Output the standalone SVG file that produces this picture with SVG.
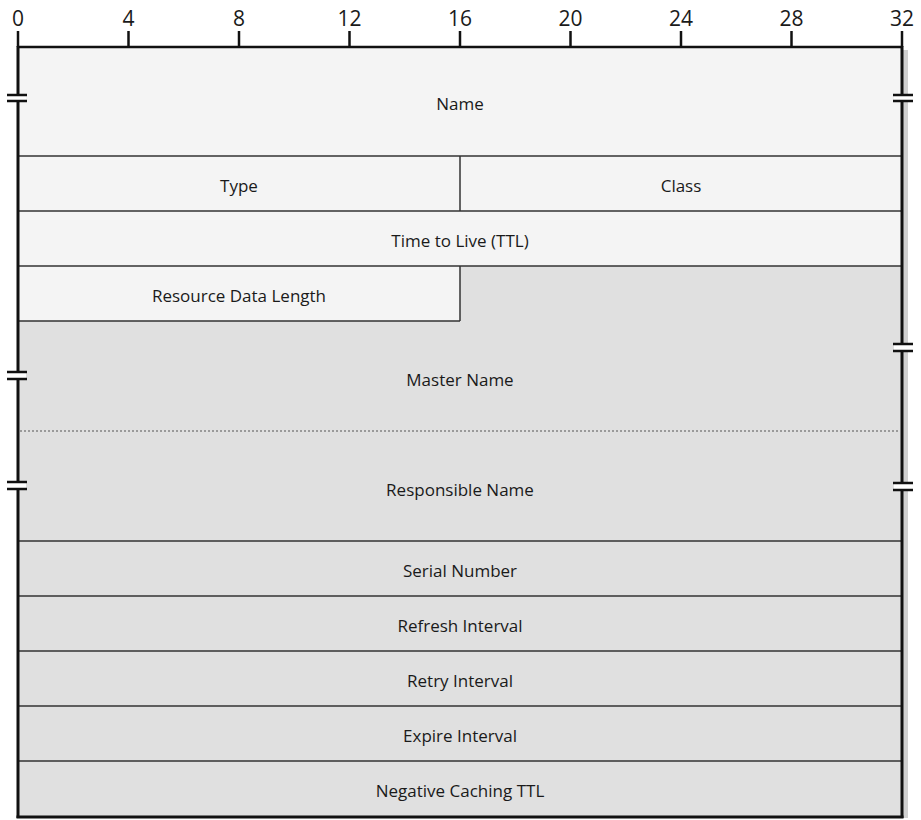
<svg xmlns="http://www.w3.org/2000/svg" width="921" height="820" viewBox="0 0 921 820">
<style>
.t{font-family:"Open Sans","Liberation Sans",sans-serif;font-size:17px;fill:#1a1a1a;text-anchor:middle}
.n{font-family:"Open Sans","Liberation Sans",sans-serif;font-size:21px;fill:#1a1a1a;text-anchor:middle}
.ln{stroke:#333;stroke-width:1.5;fill:none}
.bd{stroke:#111;stroke-width:3;fill:none}
.tk{stroke:#111;stroke-width:2.5}
.br{stroke:#111;stroke-width:2.5}
</style>
<rect width="921" height="820" fill="#fff"/>
<!-- shadow -->
<rect x="903" y="50" width="5" height="768" fill="#d0d0d0"/>
<!-- fills -->
<rect x="18" y="47" width="884" height="219" fill="#f4f4f4"/>
<rect x="18" y="266" width="442" height="55" fill="#f4f4f4"/>
<polygon points="460,266 902,266 902,817 18,817 18,321 460,321" fill="#e0e0e0"/>
<!-- ruler -->
<g id="ruler">
<line x1="18" y1="47" x2="902" y2="47" class="tk"/>
<g class="tk">
<line x1="18" y1="31" x2="18" y2="47"/><line x1="128.5" y1="31" x2="128.5" y2="47"/><line x1="239" y1="31" x2="239" y2="47"/><line x1="349.5" y1="31" x2="349.5" y2="47"/><line x1="460" y1="31" x2="460" y2="47"/><line x1="570.5" y1="31" x2="570.5" y2="47"/><line x1="681" y1="31" x2="681" y2="47"/><line x1="791.5" y1="31" x2="791.5" y2="47"/><line x1="902" y1="31" x2="902" y2="47"/>
</g>
<text class="n" x="18" y="26">0</text><text class="n" x="128.5" y="26">4</text><text class="n" x="239" y="26">8</text><text class="n" x="349.5" y="26">12</text><text class="n" x="460" y="26">16</text><text class="n" x="570.5" y="26">20</text><text class="n" x="681" y="26">24</text><text class="n" x="791.5" y="26">28</text><text class="n" x="902" y="26">32</text>
</g>
<!-- internal lines -->
<g id="connectors">
<line class="ln" x1="18" y1="156" x2="902" y2="156"/>
<line class="ln" x1="460" y1="156" x2="460" y2="211"/>
<line class="ln" x1="18" y1="211" x2="902" y2="211"/>
<line class="ln" x1="18" y1="266" x2="902" y2="266"/>
<line class="ln" x1="18" y1="321" x2="460" y2="321"/>
<line class="ln" x1="460" y1="266" x2="460" y2="321"/>
<line x1="20" y1="431" x2="900" y2="431" stroke="#555" stroke-width="1.2" stroke-dasharray="2,2"/>
<line class="ln" x1="18" y1="541" x2="902" y2="541"/>
<line class="ln" x1="18" y1="596" x2="902" y2="596"/>
<line class="ln" x1="18" y1="651" x2="902" y2="651"/>
<line class="ln" x1="18" y1="706" x2="902" y2="706"/>
<line class="ln" x1="18" y1="761" x2="902" y2="761"/>
</g>
<!-- border -->
<line class="bd" x1="18" y1="46" x2="18" y2="818"/>
<line class="bd" x1="902" y1="46" x2="902" y2="818"/>
<line class="bd" x1="16.5" y1="817" x2="903.5" y2="817"/>
<!-- breaks -->
<g id="breaks">
<rect x="10" y="95" width="16" height="5" fill="#fff"/>
<line class="br" x1="7" y1="95" x2="27" y2="95"/><line class="br" x1="7" y1="101" x2="27" y2="101"/>
<rect x="894" y="95" width="16" height="5" fill="#fff"/>
<line class="br" x1="893" y1="95" x2="913" y2="95"/><line class="br" x1="893" y1="101" x2="913" y2="101"/>
<rect x="10" y="372" width="16" height="6" fill="#fff"/>
<line class="br" x1="7" y1="372" x2="27" y2="372"/><line class="br" x1="7" y1="379" x2="27" y2="379"/>
<rect x="894" y="344" width="16" height="6" fill="#fff"/>
<line class="br" x1="893" y1="344" x2="913" y2="344"/><line class="br" x1="893" y1="351" x2="913" y2="351"/>
<rect x="10" y="483" width="16" height="6" fill="#fff"/>
<line class="br" x1="7" y1="482" x2="27" y2="482"/><line class="br" x1="7" y1="489" x2="27" y2="489"/>
<rect x="894" y="483" width="16" height="6" fill="#fff"/>
<line class="br" x1="893" y1="483" x2="913" y2="483"/><line class="br" x1="893" y1="490" x2="913" y2="490"/>
</g>
<g id="name"><text class="t" x="460" y="110">Name</text></g>
<g id="type"><text class="t" x="239" y="192">Type</text></g>
<g id="class"><text class="t" x="681" y="192">Class</text></g>
<g id="ttl"><text class="t" x="460" y="247">Time to Live (TTL)</text></g>
<g id="rdl"><text class="t" x="239" y="302">Resource Data Length</text></g>
<g id="master"><text class="t" x="460" y="386">Master Name</text></g>
<g id="responsible"><text class="t" x="460" y="496">Responsible Name</text></g>
<g id="serial"><text class="t" x="460" y="577">Serial Number</text></g>
<g id="refresh"><text class="t" x="460" y="632">Refresh Interval</text></g>
<g id="retry"><text class="t" x="460" y="687">Retry Interval</text></g>
<g id="expire"><text class="t" x="460" y="742">Expire Interval</text></g>
<g id="negative"><text class="t" x="460" y="797">Negative Caching TTL</text></g>
</svg>
